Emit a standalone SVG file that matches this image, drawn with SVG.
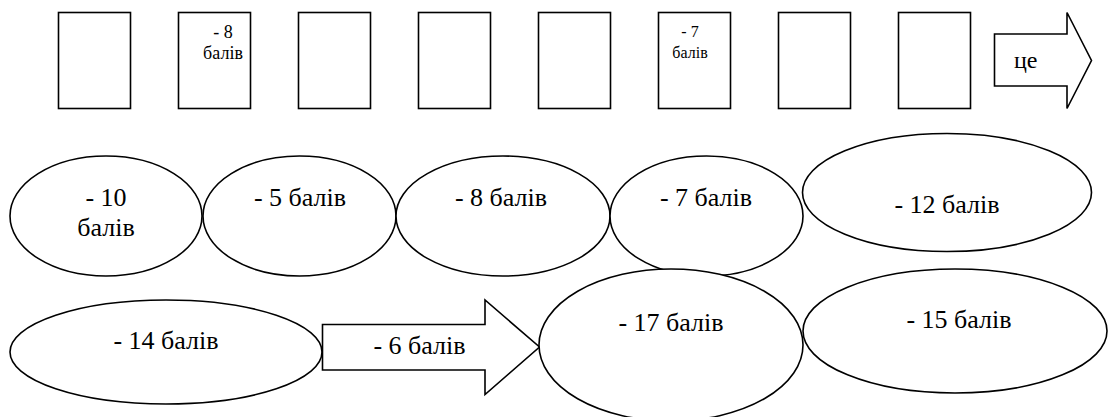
<svg xmlns="http://www.w3.org/2000/svg" width="1115" height="417" viewBox="0 0 1115 417">
<style>
.s{fill:#fff;stroke:#000;stroke-width:1.6}
.t{font-family:'Liberation Serif','Times New Roman',serif;fill:#000;font-size:26px}
.c{text-anchor:middle}
.f18{font-size:18px}
.f16{font-size:16px}
.f24{font-size:24px}
</style>
<rect width="1115" height="417" fill="#fff"/>
<g id="r1"><rect class="s" x="58.5" y="12.5" width="72" height="96"/></g>
<g id="r2"><rect class="s" x="178.5" y="12.5" width="72" height="96"/>
<text class="t c f18" x="223" y="38">- 8</text>
<text class="t c f18" x="223" y="59">балів</text></g>
<g id="r3"><rect class="s" x="298.5" y="12.5" width="72" height="96"/></g>
<g id="r4"><rect class="s" x="418.5" y="12.5" width="72" height="96"/></g>
<g id="r5"><rect class="s" x="538.5" y="12.5" width="72" height="96"/></g>
<g id="r6"><rect class="s" x="658.5" y="12.5" width="72" height="96"/>
<text class="t c f16" x="690" y="37">- 7</text>
<text class="t c f16" x="690" y="58">балів</text></g>
<g id="r7"><rect class="s" x="778.5" y="12.5" width="72" height="96"/></g>
<g id="r8"><rect class="s" x="898.5" y="12.5" width="72" height="96"/></g>
<g id="a1"><polygon class="s" points="994.5,34 1067,34 1067,12.5 1091.5,60.5 1067,108.5 1067,86 994.5,86"/>
<text class="t f24" x="1014" y="68">це</text></g>
<g id="e1"><ellipse class="s" cx="106" cy="216" rx="96" ry="60"/>
<text class="t c" x="106" y="206">- 10</text><text class="t c" x="106" y="236">балів</text></g>
<g id="e2"><ellipse class="s" cx="299.5" cy="216" rx="96.5" ry="60"/>
<text class="t c" x="300" y="206">- 5 балів</text></g>
<g id="e3"><ellipse class="s" cx="503" cy="216" rx="107" ry="60"/>
<text class="t c" x="501" y="206">- 8 балів</text></g>
<g id="e4"><ellipse class="s" cx="706.5" cy="216" rx="96.5" ry="60"/>
<text class="t c" x="706" y="206">- 7 балів</text></g>
<g id="e5"><ellipse class="s" cx="947" cy="192.5" rx="144.5" ry="59"/>
<text class="t c" x="947" y="213">- 12 балів</text></g>
<g id="e6"><ellipse class="s" cx="166" cy="352" rx="156" ry="52"/>
<text class="t c" x="166" y="349">- 14 балів</text></g>
<g id="a2"><polygon class="s" points="322.5,324.5 485,324.5 485,300 539.5,347 485,394.5 485,370 322.5,370"/>
<text class="t c" x="419.5" y="354">- 6 балів</text></g>
<g id="e7"><ellipse class="s" cx="671" cy="345" rx="132" ry="76"/>
<text class="t c" x="671" y="331">- 17 балів</text></g>
<g id="e8"><ellipse class="s" cx="955" cy="331" rx="152" ry="62"/>
<text class="t c" x="959" y="328">- 15 балів</text></g>
<g id="connectors"></g>
</svg>
